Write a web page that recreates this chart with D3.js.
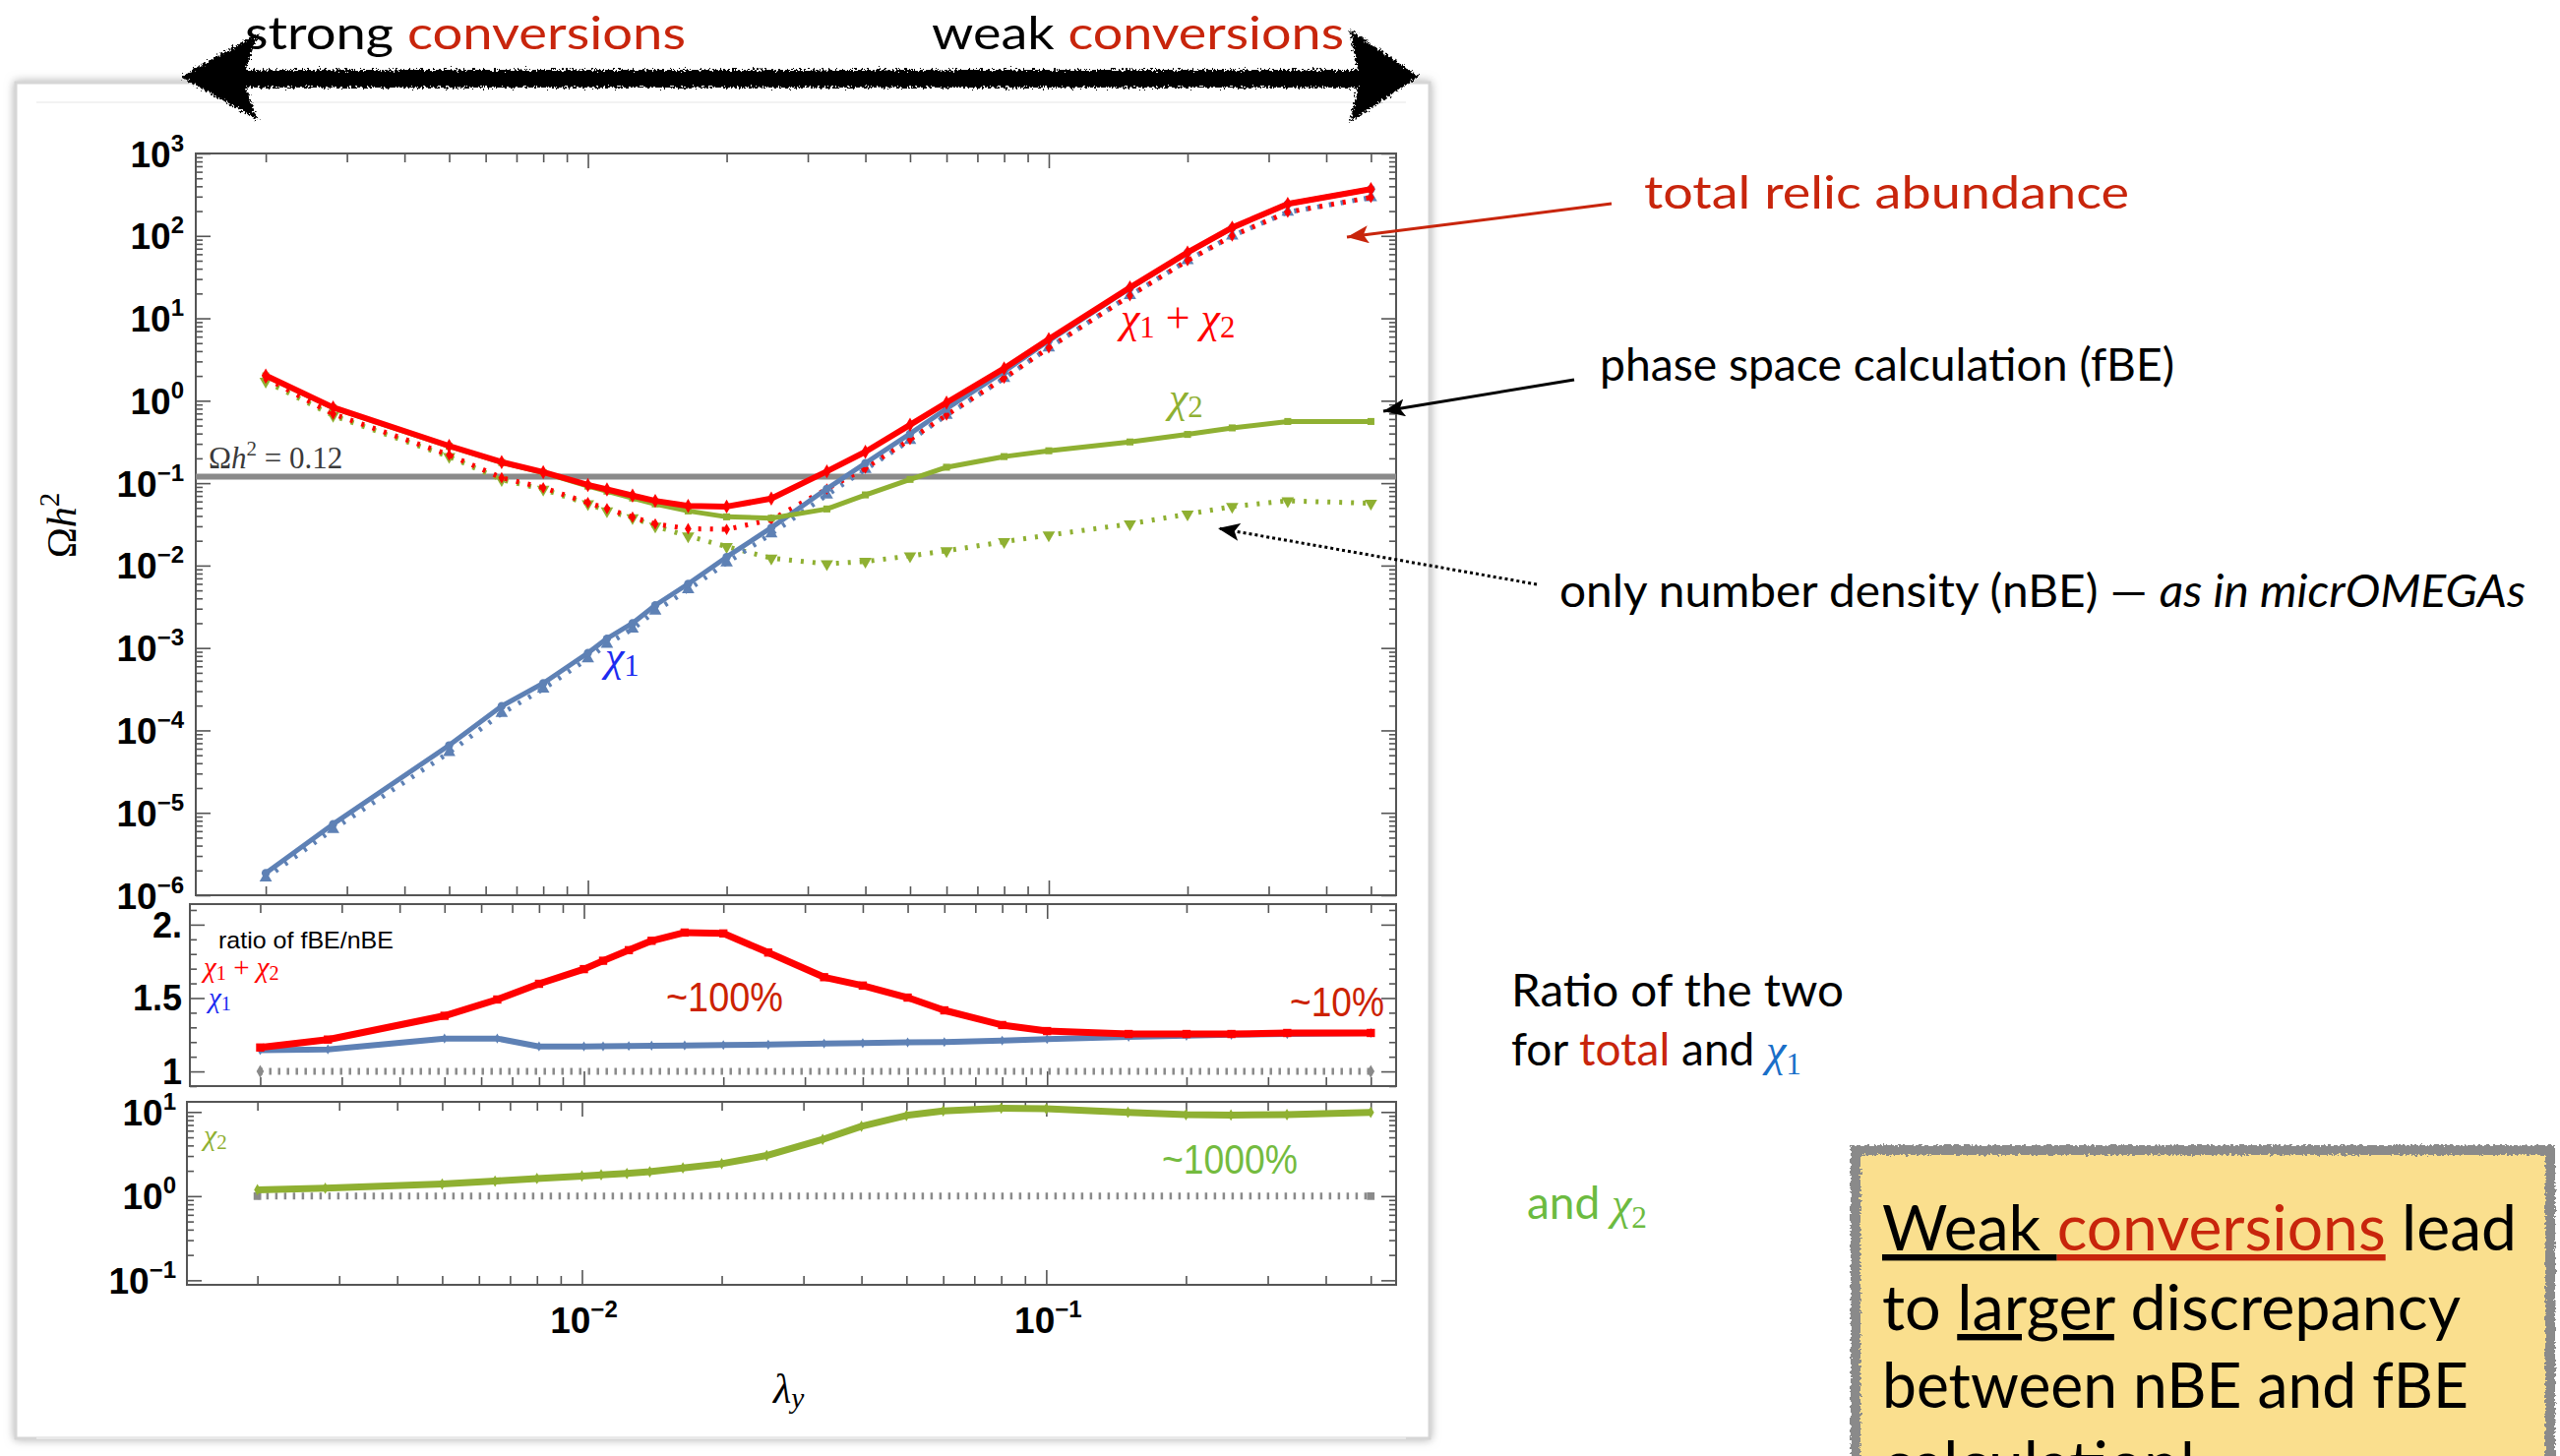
<!DOCTYPE html>
<html><head><meta charset="utf-8">
<script src="https://cdn.jsdelivr.net/npm/d3@7"></script>
<style>body{margin:0;background:#fff;overflow:hidden}svg{display:block}</style>
</head><body>
<svg id="c" width="2602" height="1480"></svg>
<script>
// ---------------- DATA ----------------
const lambdaY = [0.002, 0.0028, 0.005, 0.0065, 0.008, 0.01, 0.011, 0.0125, 0.014, 0.0165, 0.02, 0.025, 0.033, 0.04, 0.05, 0.06, 0.08, 0.1, 0.15, 0.2, 0.25, 0.33, 0.5];
const omegaTotalFBE = [2.02, 0.83, 0.283, 0.18, 0.136, 0.095, 0.084, 0.0706, 0.061, 0.053, 0.052, 0.065, 0.139, 0.24, 0.51, 0.95, 2.47, 5.6, 23.6, 63, 126, 245, 370];
const omegaTotalNBE = [1.88, 0.69, 0.22, 0.116, 0.088, 0.058, 0.049, 0.0387, 0.032, 0.028, 0.0275, 0.036, 0.085, 0.152, 0.339, 0.671, 1.88, 4.39, 18.8, 50.2, 100, 194, 293];
const omegaChi1FBE = [1.86e-6, 7.3e-6, 6.6e-5, 1.97e-4, 3.73e-4, 8.7e-4, 1.3e-3, 2.0e-3, 3.3e-3, 6.0e-3, 0.0127, 0.0288, 0.0855, 0.175, 0.397, 0.80, 2.26, 5.35, 23.3, 62.6, 125.5, 244, 369];
const omegaChi1NBE = [1.62e-6, 6.3e-6, 5.4e-5, 1.61e-4, 3.19e-4, 7.4e-4, 1.11e-3, 1.7e-3, 2.8e-3, 5.1e-3, 0.0108, 0.0243, 0.0718, 0.147, 0.331, 0.667, 1.87, 4.39, 18.9, 50.4, 100, 194, 292];
const omegaChi2FBE = [2.0, 0.82, 0.28, 0.178, 0.134, 0.092, 0.080, 0.066, 0.056, 0.046, 0.039, 0.0376, 0.0486, 0.072, 0.111, 0.156, 0.21, 0.247, 0.316, 0.39, 0.468, 0.56, 0.56];
const omegaChi2NBE = [1.72, 0.66, 0.21, 0.11, 0.084, 0.056, 0.046, 0.038, 0.030, 0.0228, 0.017, 0.0123, 0.0105, 0.0112, 0.0131, 0.0151, 0.0195, 0.0234, 0.032, 0.042, 0.052, 0.061, 0.057];
const ratioTotal = [1.163, 1.217, 1.379, 1.49, 1.597, 1.697, 1.754, 1.826, 1.89, 1.946, 1.94, 1.81, 1.642, 1.585, 1.503, 1.416, 1.316, 1.275, 1.255, 1.255, 1.255, 1.262, 1.262];
const ratioChi1 = [1.145, 1.15, 1.224, 1.224, 1.17, 1.17, 1.171, 1.173, 1.175, 1.177, 1.18, 1.183, 1.19, 1.193, 1.198, 1.2, 1.21, 1.22, 1.235, 1.243, 1.25, 1.255, 1.262];
const ratioChi2 = [1.19, 1.24, 1.39, 1.51, 1.62, 1.73, 1.79, 1.86, 1.95, 2.16, 2.43, 3.04, 4.72, 6.76, 9.1, 10.3, 11.1, 10.9, 9.9, 9.3, 9.2, 9.3, 9.9];
const planckOmega = 0.12;
const unitRatio = 1;
const mainYExponents = [3, 2, 1, 0, -1, -2, -3, -4, -5, -6];
const ratioTickValues = [1, 1.5, 2];
const ratioTickLabels = ["1", "1.5", "2."];
const chi2YExponents = [1, 0, -1];
const xExponents = [-2, -1];

// ---------------- SETUP ----------------
const svg = d3.select('#c');
const defs = svg.append('defs');
const C = {red:'#ff0000', green:'#8fb032', blue:'#5e81b5', gray:'#8a8a8a', ann:'#c8250c', frame:'#555'};
const SANS = 'Lato, "Open Sans", sans-serif';
const SERIF = '"Liberation Serif", "DejaVu Serif", serif';
const AX = '"Liberation Sans", Arial, sans-serif';

// filters
const rough = defs.append('filter').attr('id','rough').attr('x','-5%').attr('y','-30%').attr('width','110%').attr('height','160%');
rough.append('feTurbulence').attr('type','fractalNoise').attr('baseFrequency','0.45').attr('numOctaves',2).attr('seed',3).attr('result','n');
rough.append('feDisplacementMap').attr('in','SourceGraphic').attr('in2','n').attr('scale',10).attr('xChannelSelector','R').attr('yChannelSelector','G');
const rough2 = defs.append('filter').attr('id','rough2').attr('x','-2%').attr('y','-2%').attr('width','104%').attr('height','104%');
rough2.append('feTurbulence').attr('type','fractalNoise').attr('baseFrequency','0.35').attr('numOctaves',2).attr('seed',7).attr('result','n');
rough2.append('feDisplacementMap').attr('in','SourceGraphic').attr('in2','n').attr('scale',6).attr('xChannelSelector','R').attr('yChannelSelector','G');
const shadow = defs.append('filter').attr('id','shadow').attr('x','-3%').attr('y','-3%').attr('width','106%').attr('height','106%');
shadow.append('feDropShadow').attr('dx',0).attr('dy',0).attr('stdDeviation',5).attr('flood-color','#999').attr('flood-opacity',0.8);

function arrowMarker(id, color){
  defs.append('marker').attr('id',id).attr('markerUnits','userSpaceOnUse')
    .attr('markerWidth',24).attr('markerHeight',18).attr('refX',22).attr('refY',9).attr('orient','auto')
    .append('path').attr('d','M0,0 L22,9 L0,18 L5,9 Z').attr('fill',color);
}
arrowMarker('arRed', C.ann); arrowMarker('arBlack', '#000');

// ---------------- SLIDE FRAME ----------------
svg.append('rect').attr('x',16).attr('y',84).attr('width',1437).attr('height',1378)
  .attr('fill','#fff').attr('stroke','#d6d6d6').attr('stroke-width',3).attr('filter','url(#shadow)');
svg.append('line').attr('x1',37).attr('x2',1429).attr('y1',104).attr('y2',104).attr('stroke','#eee').attr('stroke-width',1.5);
svg.append('line').attr('x1',37).attr('x2',1429).attr('y1',1462).attr('y2',1462).attr('stroke','#eee').attr('stroke-width',1.5);

// ---------------- TOP ARROW & TEXT ----------------
const topArrow = svg.append('g').attr('filter','url(#rough)');
topArrow.append('path').attr('fill','#000')
  .attr('d','M184,78 L262,34 L250,71 L1380,71 L1372,30 L1442,78 L1372,124 L1380,89 L250,89 L262,122 Z');
function slideText(x, y, runs, size, len){
  const t = svg.append('text').attr('x',x).attr('y',y).attr('font-family',SANS).attr('font-size',size);
  runs.forEach(r => {
    const s = t.append('tspan').text(r.t).attr('fill', r.c || '#000');
    if (r.it) s.attr('font-style','italic');
    if (r.serif) s.attr('font-family',SERIF).attr('font-style','italic');
    if (r.sub) s.attr('font-family',SERIF).attr('font-size',size*0.68).attr('dy',size*0.2);
    if (r.u) s.style('text-decoration','underline');
  });
  if (len) t.attr('textLength',len).attr('lengthAdjust','spacingAndGlyphs');
  return t;
}
slideText(249, 50, [{t:'strong '},{t:'conversions',c:C.ann}], 46, 448);
slideText(947, 50, [{t:'weak '},{t:'conversions',c:C.ann}], 46, 419);

// ---------------- PANELS ----------------
const xDomain = [0.00141, 0.567];
const P1 = {left:199, right:1419, top:156, bottom:910};
const P2 = {left:193, right:1419, top:919, bottom:1104};
const P3 = {left:190, right:1419, top:1120, bottom:1306};
const x1 = d3.scaleLog().domain(xDomain).range([P1.left, P1.right]);
const x2 = d3.scaleLog().domain(xDomain).range([P2.left, P2.right]);
const x3 = d3.scaleLog().domain(xDomain).range([P3.left, P3.right]);
const y1 = d3.scaleLog().domain([1e-6, 1e3]).range([P1.bottom, P1.top]);
const y2 = d3.scaleLinear().domain([0.9, 2.14]).range([P2.bottom, P2.top]);
const y3 = d3.scaleLog().domain([0.0883, 13.2]).range([P3.bottom, P3.top]);

function logMinor(lo, hi){ const out=[]; for(let e=Math.floor(Math.log10(lo)); e<=Math.ceil(Math.log10(hi)); e++){ for(let k=2;k<=9;k++){ const v=k*Math.pow(10,e); if(v>=lo&&v<=hi) out.push(v);} } return out; }
const xMajor = xExponents.map(e => Math.pow(10,e));
const xMinor = logMinor(xDomain[0], xDomain[1]);

function styleAxis(sel){ sel.select('.domain').remove(); sel.selectAll('.tick line').attr('stroke',C.frame).attr('stroke-width',1.6); sel.selectAll('.tick text').remove(); }
function drawAxes(P, x, y, yMajor, yMinor){
  const g = svg.append('g');
  const M=15, m=9;
  [[xMajor,M],[xMinor,m]].forEach(([vals,len]) => {
    g.append('g').attr('transform',`translate(0,${P.bottom})`).call(d3.axisBottom(x).tickValues(vals).tickSize(-len)).call(styleAxis);
    g.append('g').attr('transform',`translate(0,${P.top})`).call(d3.axisTop(x).tickValues(vals).tickSize(-len)).call(styleAxis);
  });
  [[yMajor,M],[yMinor,m-2]].forEach(([vals,len]) => {
    g.append('g').attr('transform',`translate(${P.left},0)`).call(d3.axisLeft(y).tickValues(vals).tickSize(-len)).call(styleAxis);
    g.append('g').attr('transform',`translate(${P.right},0)`).call(d3.axisRight(y).tickValues(vals).tickSize(-len)).call(styleAxis);
  });
  g.append('rect').attr('x',P.left).attr('y',P.top).attr('width',P.right-P.left).attr('height',P.bottom-P.top)
    .attr('fill','none').attr('stroke',C.frame).attr('stroke-width',2);
}
function clip(id, P){ defs.append('clipPath').attr('id',id).append('rect').attr('x',P.left).attr('y',P.top).attr('width',P.right-P.left).attr('height',P.bottom-P.top); }
clip('cp1',P1); clip('cp2',P2); clip('cp3',P3);

function powLabel(x, y, e, anchor){
  const t = svg.append('text').attr('x',x).attr('y',y).attr('font-family',AX).attr('font-weight','bold').attr('font-size',37).attr('text-anchor',anchor).attr('fill','#000');
  t.append('tspan').text('10');
  t.append('tspan').attr('font-size',24).attr('dy',-16).text(String(e).replace('-', '\u2212'));
}

function series(g, x, y, xs, ys, opt){
  const pts = xs.map((d,i)=>[d, ys[i]]);
  const line = d3.line().x(d=>x(d[0])).y(d=>y(d[1]));
  const p = g.append('path').datum(pts).attr('d',line).attr('fill','none').attr('stroke',opt.color).attr('stroke-width',opt.width).attr('stroke-linejoin','round');
  if (opt.dash) p.attr('stroke-dasharray',opt.dash);
  if (opt.symbol) {
    const sym = d3.symbol().type(opt.symbol).size(opt.size||40);
    g.selectAll(null).data(pts).join('path')
      .attr('transform',d=>`translate(${x(d[0])},${y(d[1])})${opt.rot?` rotate(${opt.rot})`:''}`)
      .attr('d',sym).attr('fill',opt.color);
  }
}

// ---- Panel 1: relic abundance ----
drawAxes(P1, x1, y1, mainYExponents.map(e=>Math.pow(10,e)), logMinor(1e-6,1e3));
mainYExponents.forEach(e => powLabel(P1.left-12, y1(Math.pow(10,e))+13.5, e, 'end'));
const g1 = svg.append('g').attr('clip-path','url(#cp1)');
g1.append('line').attr('x1',P1.left).attr('x2',P1.right).attr('y1',y1(planckOmega)).attr('y2',y1(planckOmega)).attr('stroke',C.gray).attr('stroke-width',6);
series(g1, x1, y1, lambdaY, omegaChi2NBE, {color:C.green, width:5, dash:'3,9', symbol:d3.symbolTriangle, size:70, rot:180});
series(g1, x1, y1, lambdaY, omegaChi1NBE, {color:C.blue, width:5, dash:'3,9', symbol:d3.symbolTriangle, size:70});
series(g1, x1, y1, lambdaY, omegaTotalNBE, {color:C.red, width:5, dash:'3,9', symbol:d3.symbolDiamond, size:40});
series(g1, x1, y1, lambdaY, omegaChi1FBE, {color:C.blue, width:5, symbol:d3.symbolCircle, size:55});
series(g1, x1, y1, lambdaY, omegaChi2FBE, {color:C.green, width:5, symbol:d3.symbolSquare, size:50});
series(g1, x1, y1, lambdaY, omegaTotalFBE, {color:C.red, width:6, symbol:d3.symbolDiamond, size:60});

// Ωh² = 0.12 label
const pl = svg.append('text').attr('x',212).attr('y',y1(planckOmega)-8).attr('font-family',SERIF).attr('font-size',31).attr('fill','#3a3a3a');
pl.append('tspan').text('Ω');
pl.append('tspan').attr('font-style','italic').text('h');
pl.append('tspan').attr('font-size',21).attr('dy',-13).text('2');
pl.append('tspan').attr('dy',13).text(' = 0.12');

function mathLabel(x, y, runs, size, color){
  const t = svg.append('text').attr('x',x).attr('y',y).attr('font-family',SERIF).attr('font-size',size).attr('fill',color);
  let shift = 0;
  runs.forEach(r => {
    const s = t.append('tspan').text(r.t);
    if (r.it) s.attr('font-style','italic');
    const want = r.sub ? size*0.12 : 0;
    if (r.sub) s.attr('font-size', size*0.7);
    if (want !== shift) { s.attr('dy', want - shift); shift = want; }
  });
  return t;
}
const chiSum = [{t:'χ',it:true},{t:'1',sub:true},{t:' + '},{t:'χ',it:true},{t:'2',sub:true}];
mathLabel(1139, 338, chiSum, 44, C.red);
mathLabel(1188, 419, [{t:'χ',it:true},{t:'2',sub:true}], 44, C.green);
mathLabel(615, 682, [{t:'χ',it:true},{t:'1',sub:true}], 44, '#1c2cf0');

// ---- Panel 2: ratio (total, chi1) ----
drawAxes(P2, x2, y2, ratioTickValues, [0.9,1.1,1.2,1.3,1.4,1.6,1.7,1.8,1.9,2.1]);
ratioTickValues.forEach((v,i) => svg.append('text').attr('x',P2.left-8).attr('y',y2(v)+13).attr('text-anchor','end')
  .attr('font-family',AX).attr('font-weight','bold').attr('font-size',36).text(ratioTickLabels[i]));
const g2 = svg.append('g').attr('clip-path','url(#cp2)');
series(g2, x2, y2, [lambdaY[0], lambdaY[lambdaY.length-1]], [unitRatio, unitRatio], {color:C.gray, width:7, dash:'2.5,6.5', symbol:d3.symbolDiamond, size:50});
series(g2, x2, y2, lambdaY, ratioChi1, {color:C.blue, width:6, symbol:d3.symbolDiamond, size:30});
series(g2, x2, y2, lambdaY, ratioTotal, {color:C.red, width:7, symbol:d3.symbolSquare, size:70});
svg.append('text').attr('x',222).attr('y',964).attr('font-family',AX).attr('font-size',24).attr('textLength',178).attr('lengthAdjust','spacingAndGlyphs').text('ratio of fBE/nBE');
mathLabel(207, 993, chiSum, 29, C.red);
mathLabel(212, 1024, [{t:'χ',it:true},{t:'1',sub:true}], 29, '#1c2cf0');
svg.append('text').attr('x',677).attr('y',1028).attr('font-family',AX).attr('font-size',42).attr('fill','#cc2200').attr('textLength',119).attr('lengthAdjust','spacingAndGlyphs').text('~100%');
svg.append('text').attr('x',1311).attr('y',1033).attr('font-family',AX).attr('font-size',42).attr('fill','#cc2200').attr('textLength',96).attr('lengthAdjust','spacingAndGlyphs').text('~10%');

// ---- Panel 3: ratio chi2 ----
drawAxes(P3, x3, y3, chi2YExponents.map(e=>Math.pow(10,e)), logMinor(0.0883, 13.2));
chi2YExponents.forEach(e => powLabel(P3.left-11, y3(Math.pow(10,e))+13.5, e, 'end'));
const g3 = svg.append('g').attr('clip-path','url(#cp3)');
series(g3, x3, y3, [lambdaY[0], lambdaY[lambdaY.length-1]], [unitRatio, unitRatio], {color:C.gray, width:7, dash:'2.5,6.5', symbol:d3.symbolSquare, size:60});
series(g3, x3, y3, lambdaY, ratioChi2, {color:C.green, width:7, symbol:d3.symbolDiamond, size:40});
mathLabel(207, 1164, [{t:'χ',it:true},{t:'2',sub:true}], 30, C.green);
svg.append('text').attr('x',1181).attr('y',1193).attr('font-family',AX).attr('font-size',42).attr('fill','#74bb3f').attr('textLength',138).attr('lengthAdjust','spacingAndGlyphs').text('~1000%');

// x tick labels
xExponents.forEach(e => powLabel(x3(Math.pow(10,e))+2, 1355, e, 'middle'));
// axis titles
mathLabel(786, 1426, [{t:'λ',it:true},{t:'y',it:true,sub:true}], 42, '#000');
const yl = svg.append('text').attr('transform','translate(77,534) rotate(-90)').attr('text-anchor','middle').attr('font-family',SERIF).attr('font-size',42);
yl.append('tspan').text('Ω'); yl.append('tspan').attr('font-style','italic').text('h'); yl.append('tspan').attr('font-size',29).attr('dy',-17).text('2');

// ---------------- ANNOTATIONS ----------------
slideText(1671, 212, [{t:'total relic abundance',c:C.ann}], 46, 493);
svg.append('line').attr('x1',1638).attr('y1',207).attr('x2',1369).attr('y2',241).attr('stroke',C.ann).attr('stroke-width',3).attr('marker-end','url(#arRed)');
slideText(1626, 387, [{t:'phase space calculation (fBE)'}], 46, 584);
svg.append('line').attr('x1',1600).attr('y1',386).attr('x2',1406).attr('y2',418).attr('stroke','#000').attr('stroke-width',3).attr('marker-end','url(#arBlack)');
slideText(1585, 617, [{t:'only number density (nBE) — '},{t:'as in micrOMEGAs',it:true}], 46, 982);
svg.append('line').attr('x1',1562).attr('y1',594).attr('x2',1238).attr('y2',537).attr('stroke','#000').attr('stroke-width',3).attr('stroke-dasharray','3,3').attr('marker-end','url(#arBlack)');
slideText(1536, 1023, [{t:'Ratio of the two'}], 46, 338);
slideText(1536, 1083, [{t:'for '},{t:'total',c:C.ann},{t:' and '},{t:'χ',serif:true,c:'#1a6fc8'},{t:'1',sub:true,c:'#1a6fc8'}], 46);
slideText(1552, 1239, [{t:'and ',c:'#6cbb40'},{t:'χ',serif:true,c:'#6cbb40'},{t:'2',sub:true,c:'#6cbb40'}], 46);

// yellow box
svg.append('rect').attr('x',1886).attr('y',1169).attr('width',706).attr('height',360).attr('fill','#fadf8e')
  .attr('stroke','#8a8a8a').attr('stroke-width',10).attr('filter','url(#rough2)');
slideText(1913, 1271, [{t:'Weak ',u:true},{t:'conversions',c:C.ann,u:true},{t:' lead'}], 64, 645);
slideText(1913, 1352, [{t:'to '},{t:'larger',u:true},{t:' discrepancy'}], 64, 588);
slideText(1913, 1431, [{t:'between nBE and fBE'}], 64, 596);
slideText(1913, 1511, [{t:'calculation!'}], 64);
</script>
</body></html>
